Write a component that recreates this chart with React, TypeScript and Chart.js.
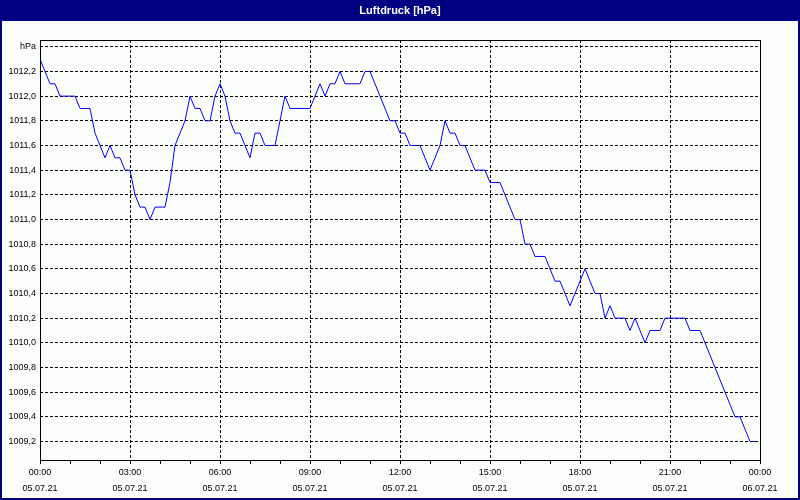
import { useEffect, useRef } from 'react';
import { Chart, registerables } from 'chart.js';

Chart.register(...registerables);

const chartTitle = 'Luftdruck [hPa]';
const unitLabel = 'hPa';
const intervalMinutes = 10;

// Luftdruck in hPa, one reading every 10 minutes from 05.07.21 00:00
const pressure = [
  1012.3, 1012.2, 1012.1, 1012.1, 1012.0, 1012.0, 1012.0, 1012.0, 1011.9, 1011.9,
  1011.9, 1011.7, 1011.6, 1011.5, 1011.6, 1011.5, 1011.5, 1011.4, 1011.4, 1011.2,
  1011.1, 1011.1, 1011.0, 1011.1, 1011.1, 1011.1, 1011.3, 1011.6, 1011.7, 1011.8,
  1012.0, 1011.9, 1011.9, 1011.8, 1011.8, 1012.0, 1012.1, 1012.0, 1011.8, 1011.7,
  1011.7, 1011.6, 1011.5, 1011.7, 1011.7, 1011.6, 1011.6, 1011.6, 1011.8, 1012.0,
  1011.9, 1011.9, 1011.9, 1011.9, 1011.9, 1012.0, 1012.1, 1012.0, 1012.1, 1012.1,
  1012.2, 1012.1, 1012.1, 1012.1, 1012.1, 1012.2, 1012.2, 1012.1, 1012.0, 1011.9,
  1011.8, 1011.8, 1011.7, 1011.7, 1011.6, 1011.6, 1011.6, 1011.5, 1011.4, 1011.5,
  1011.6, 1011.8, 1011.7, 1011.7, 1011.6, 1011.6, 1011.5, 1011.4, 1011.4, 1011.4,
  1011.3, 1011.3, 1011.3, 1011.2, 1011.1, 1011.0, 1011.0, 1010.8, 1010.8, 1010.7,
  1010.7, 1010.7, 1010.6, 1010.5, 1010.5, 1010.4, 1010.3, 1010.4, 1010.5, 1010.6,
  1010.5, 1010.4, 1010.4, 1010.2, 1010.3, 1010.2, 1010.2, 1010.2, 1010.1, 1010.2,
  1010.1, 1010.0, 1010.1, 1010.1, 1010.1, 1010.2, 1010.2, 1010.2, 1010.2, 1010.2,
  1010.1, 1010.1, 1010.1, 1010.0, 1009.9, 1009.8, 1009.7, 1009.6, 1009.5, 1009.4,
  1009.4, 1009.3, 1009.2, 1009.2,
];

const yTickValues = [
  1009.2, 1009.4, 1009.6, 1009.8, 1010.0, 1010.2, 1010.4, 1010.6,
  1010.8, 1011.0, 1011.2, 1011.4, 1011.6, 1011.8, 1012.0, 1012.2, 1012.4,
];
const yMin = 1009.05;
const yMax = 1012.455;

const xTickHours = [0, 3, 6, 9, 12, 15, 18, 21, 24];
const xTimeLabels = ['00:00', '03:00', '06:00', '09:00', '12:00', '15:00', '18:00', '21:00', '00:00'];
const xDateLabels = ['05.07.21', '05.07.21', '05.07.21', '05.07.21', '05.07.21', '05.07.21', '05.07.21', '05.07.21', '06.07.21'];

const NAVY = '#000080';
const BG = '#FCFEFC';
const FONT = '"Liberation Sans", Arial, sans-serif';

const framePlugin = {
  id: 'frame',
  beforeDraw(chart: any) {
    const { ctx, width, height } = chart;
    ctx.save();
    ctx.fillStyle = BG;
    ctx.fillRect(0, 0, width, height);
    ctx.fillStyle = NAVY;
    ctx.fillRect(0, 0, width, 21);
    ctx.font = `bold 11px ${FONT}`;
    ctx.fillStyle = '#FFFFFF';
    ctx.textAlign = 'center';
    ctx.textBaseline = 'middle';
    ctx.fillText(chartTitle, width / 2, 11);
    ctx.restore();
  },
  afterDraw(chart: any) {
    const { ctx, chartArea: a, width, height } = chart;
    ctx.save();
    ctx.strokeStyle = '#000000';
    ctx.lineWidth = 1;
    ctx.strokeRect(
      Math.round(a.left) + 0.5,
      Math.round(a.top) + 0.5,
      Math.round(a.right - a.left),
      Math.round(a.bottom - a.top)
    );
    ctx.fillStyle = NAVY;
    ctx.fillRect(0, 0, 2, height);
    ctx.fillRect(width - 2, 0, 2, height);
    ctx.fillRect(0, height - 2, width, 2);
    ctx.restore();
  },
};

export default function App() {
  const canvasRef = useRef<HTMLCanvasElement | null>(null);

  useEffect(() => {
    const canvas = canvasRef.current;
    if (!canvas) return;
    const points = pressure.map((v, i) => ({ x: (i * intervalMinutes) / 60, y: v }));

    const chart = new Chart(canvas, {
      type: 'line',
      data: {
        datasets: [
          {
            label: chartTitle,
            data: points,
            borderColor: '#0000FF',
            borderWidth: 1,
            pointRadius: 0,
            tension: 0,
            fill: false,
          },
        ],
      },
      options: {
        responsive: false,
        animation: false,
        devicePixelRatio: 1,
        layout: { padding: { top: 40, right: 40, left: 0, bottom: 0 } },
        plugins: {
          legend: { display: false },
          title: { display: false },
          tooltip: { enabled: false },
        },
        scales: {
          x: {
            type: 'linear',
            min: 0,
            max: 24,
            afterFit: (scale: any) => {
              scale.height = 40;
            },
            grid: {
              color: (ctx: any) =>
                ctx.tick && xTickHours.includes(ctx.tick.value) ? '#000000' : 'rgba(0,0,0,0)',
              lineWidth: 1,
              drawTicks: true,
              tickLength: 4,
              tickColor: '#000000',
            },
            border: { display: false, dash: [3, 2] },
            ticks: {
              stepSize: 1,
              autoSkip: false,
              maxRotation: 0,
              minRotation: 0,
              padding: 1,
              color: '#000000',
              font: { family: FONT, size: 9, lineHeight: '16px' },
              callback: (value: any) => {
                const idx = xTickHours.indexOf(Number(value));
                return idx >= 0 ? [xTimeLabels[idx], xDateLabels[idx]] : '';
              },
            },
          },
          y: {
            type: 'linear',
            min: yMin,
            max: yMax,
            afterFit: (scale: any) => {
              scale.width = 40;
            },
            afterBuildTicks: (scale: any) => {
              scale.ticks = yTickValues.map((v) => ({ value: v }));
            },
            grid: {
              color: '#000000',
              lineWidth: 1,
              drawTicks: false,
            },
            border: { display: false, dash: [3, 2] },
            ticks: {
              autoSkip: false,
              padding: 4,
              color: '#000000',
              font: { family: FONT, size: 9 },
              callback: (value: any) => {
                const v = Number(value);
                if (Math.abs(v - yTickValues[yTickValues.length - 1]) < 1e-6) return unitLabel;
                return v.toFixed(1).replace('.', ',');
              },
            },
          },
        },
      },
      plugins: [framePlugin],
    });

    return () => {
      chart.destroy();
    };
  }, []);

  return (
    <div style={{ position: 'fixed', left: 0, top: 0, width: 800, height: 500 }}>
      <canvas ref={canvasRef} width={800} height={500} style={{ display: 'block', width: 800, height: 500 }} />
    </div>
  );
}
